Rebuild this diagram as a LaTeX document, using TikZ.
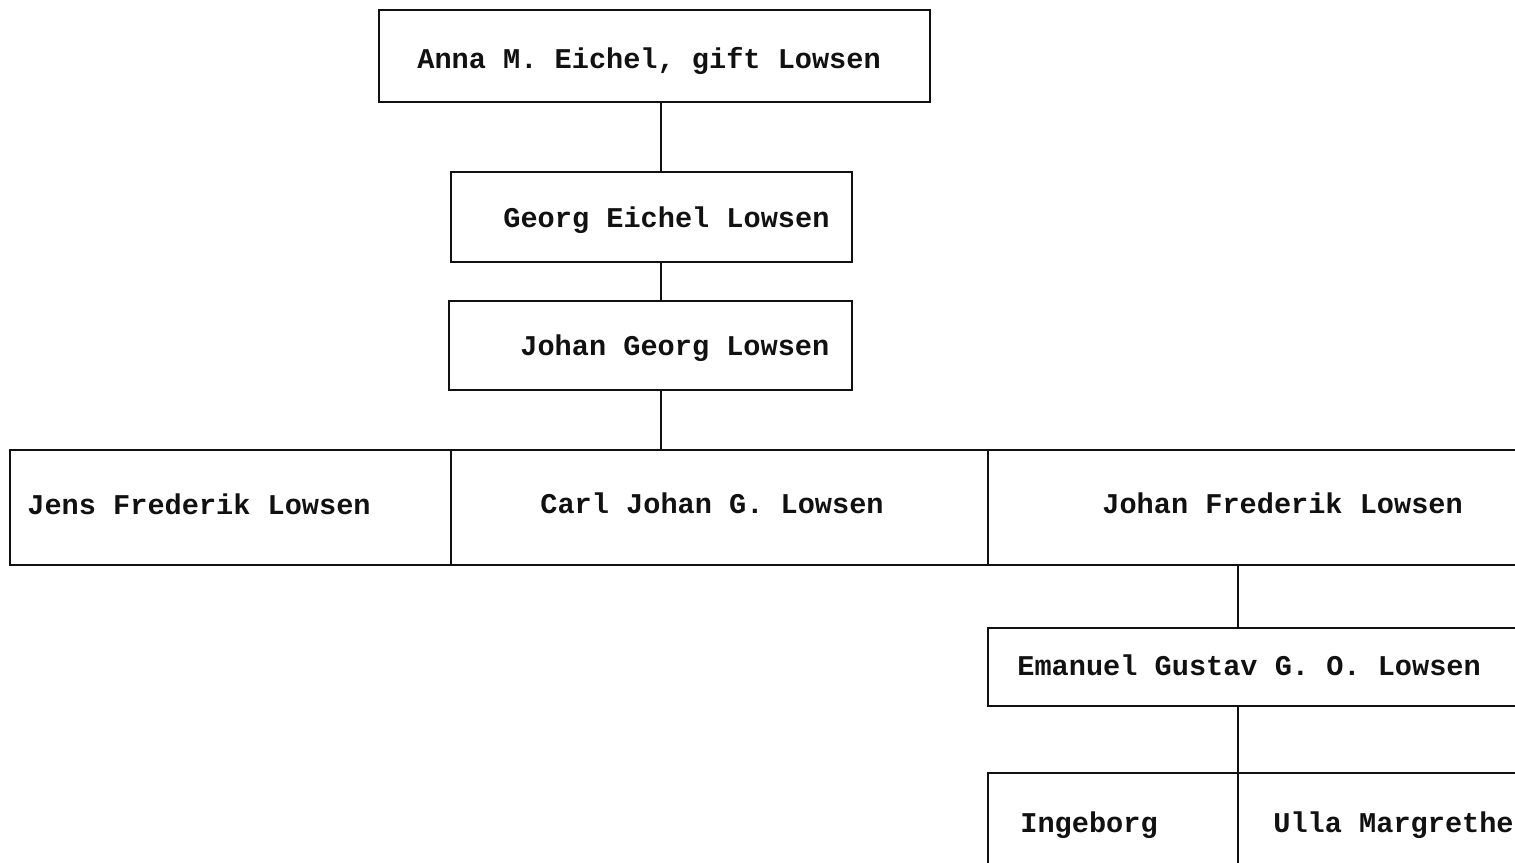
\documentclass[tikz,border=0pt]{standalone}
\usepackage{fontspec}
\setmonofont{Liberation Mono}
\usepackage{tikz}
\usetikzlibrary{positioning,calc}
\definecolor{ink}{HTML}{111111}

\begin{document}
\begin{tikzpicture}[x=0.5pt,y=-0.5pt,
  box/.style={draw=ink,line width=1pt,rectangle,inner sep=0pt},
  persontext/.style={inner sep=0pt,anchor=base west,text=ink,
    font=\ttfamily\bfseries\fontsize{14.3}{17}\selectfont}]
\path[use as bounding box,clip] (0,0) rectangle (1515,862);
\coordinate (trunk) at (661,0);
\coordinate (branch) at (1238,0);
% upper generations
\node[box,minimum width=275.5pt,minimum height=46pt] (anna) at (654.5,56) {};
\node[box,minimum width=200.5pt,minimum height=45pt] (georg) at (651.5,217) {};
\node[box,minimum width=201.5pt,minimum height=44.5pt] (johang) at (650.5,345.5) {};
\node[persontext] (tanna) at (417,68) {Anna M. Eichel, gift Lowsen};
\node[persontext] (tgeorg) at (503,227) {Georg Eichel Lowsen};
\node[persontext] (tjohang) at (520,355) {Johan Georg Lowsen};
% children row
\node[box,minimum width=220.5pt,minimum height=57.5pt] (jens) at (230.5,507.5) {};
\node[box,minimum width=268.5pt,minimum height=57.5pt] (carl) at (719.5,507.5) {};
\node[box,minimum width=292pt,minimum height=57.5pt] (johanf) at (1280,507.5) {};
\node[persontext] (tjens) at (27,514) {Jens Frederik Lowsen};
\node[persontext] (tcarl) at (540,513) {Carl Johan G. Lowsen};
\node[persontext] (tjohanf) at (1102,513) {Johan Frederik Lowsen};
% right branch
\node[box,minimum width=286pt,minimum height=39pt] (emanuel) at (1274,667) {};
\node[box,minimum width=125pt,minimum height=88.5pt] (ingeborg) at (1113,861.5) {};
\node[box,minimum width=161pt,minimum height=88.5pt] (ulla) at (1399,861.5) {};
\node[persontext] (temanuel) at (1017,675) {Emanuel Gustav G. O. Lowsen};
\node[persontext] (tingeborg) at (1020,832) {Ingeborg};
\node[persontext] (tulla) at (1273,832) {Ulla Margrethe};
% connectors
\draw[ink,line width=1pt] (anna.south -| trunk) -- (georg.north -| trunk);
\draw[ink,line width=1pt] (georg.south -| trunk) -- (johang.north -| trunk);
\draw[ink,line width=1pt] (johang.south -| trunk) -- (carl.north -| trunk);
\draw[ink,line width=1pt] (johanf.south -| branch) -- (emanuel.north -| branch);
\draw[ink,line width=1pt] (emanuel.south -| branch) -- (ulla.north -| branch);
\end{tikzpicture}
\end{document}
